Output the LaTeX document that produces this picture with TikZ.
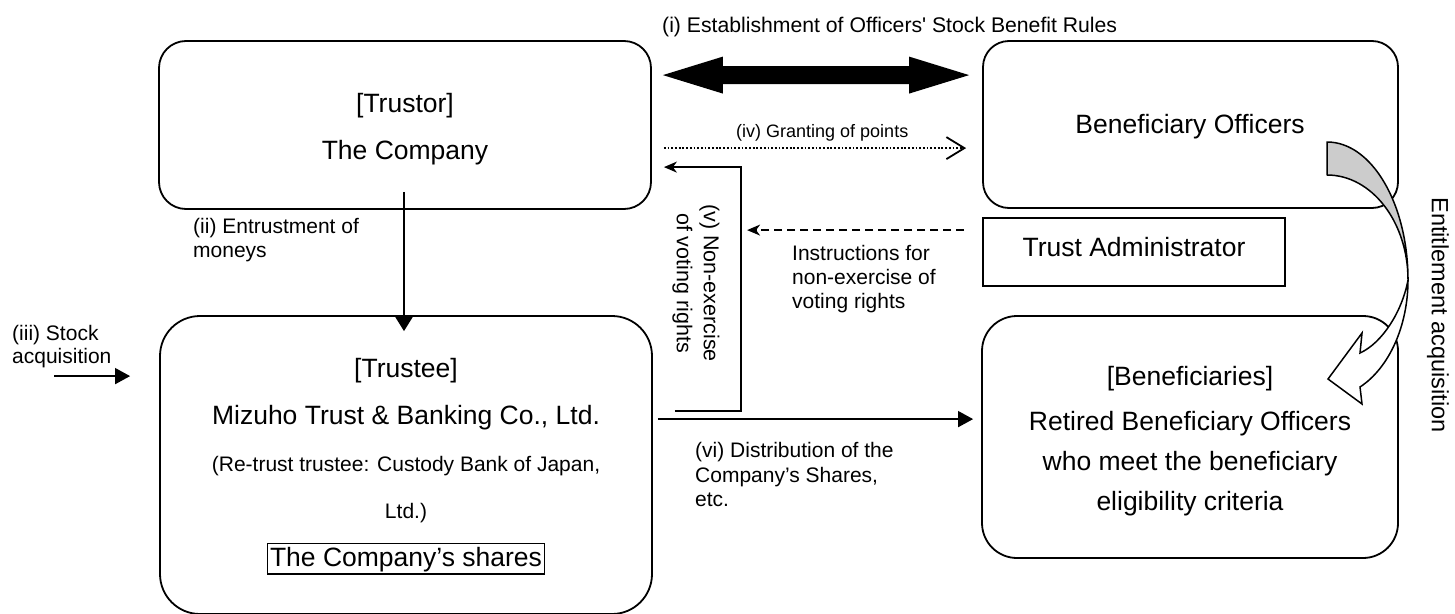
\documentclass[tikz,border=0pt]{standalone}
\usepackage{fontspec}
\setmainfont{Liberation Sans}
\usetikzlibrary{arrows.meta,calc}
\tikzset{
  rbox/.style={draw, line width=1.8pt, rounded corners=#1, inner sep=0pt},
  sbox/.style={draw, line width=1.8pt, inner sep=0pt},
  bigtext/.style={font=\fontsize{26.5}{30}\selectfont, anchor=base, inner sep=0pt},
  midtext/.style={font=\fontsize{21}{24}\selectfont, anchor=base, inner sep=0pt},
  lbl/.style={font=\fontsize{21}{24}\selectfont, anchor=base west, inner sep=0pt},
  conn/.style={line width=1.5pt},
  solidtip/.style={-{Triangle[length=15pt,width=16pt]}},
  thintip/.style={-{Stealth[length=13pt,width=11pt,inset=4pt]}},
}
\begin{document}
\begin{tikzpicture}[x=1pt,y=-1pt]
\useasboundingbox (0,0) rectangle (1455,613);

% parties
\node[rbox=27pt, minimum width=492pt, minimum height=168pt] (trustor) at (405,125) {};
\node[rbox=26pt, minimum width=415pt, minimum height=167pt] (officers) at (1190.5,124.5) {};
\node[sbox, minimum width=302pt, minimum height=68pt] (admin) at (1134,252) {};
\node[rbox=40pt, minimum width=492pt, minimum height=298pt] (trustee) at (406,465) {};
\node[rbox=35pt, minimum width=416pt, minimum height=242pt] (benef) at (1190,437) {};

% texts inside the parties
\node[bigtext] (trustorhead) at (405,112) {[Trustor]};
\node[bigtext] (trustorname) at (405,159.5) {The Company};
\node[bigtext] (officersname) at (1190,133) {Beneficiary Officers};
\node[bigtext] (adminname) at (1134,256) {Trust Administrator};
\node[bigtext] (trusteehead) at (406,377) {[Trustee]};
\node[bigtext] (trusteename) at (406,424) {Mizuho Trust \& Banking Co., Ltd.};
\node[midtext] (retrust1) at (406,471) {(Re-trust trustee: Custody Bank of Japan,};
\node[midtext] (retrust2) at (406,518) {Ltd.)};
\node[bigtext, draw, line width=1.6pt, text height=21pt, text depth=5.5pt,
      inner xsep=2.5pt, inner ysep=2pt] (shares) at (406,566.5) {The Company’s shares};
\node[bigtext] (benefhead) at (1190,385) {[Beneficiaries]};
\node[bigtext] (benef1) at (1190,430) {Retired Beneficiary Officers};
\node[bigtext] (benef2) at (1190,470) {who meet the beneficiary};
\node[bigtext] (benef3) at (1190,510) {eligibility criteria};

% (i) rules: thick double arrow
\coordinate (dl) at ($(trustor.north east)+(11,35)$);
\coordinate (dr) at ($(officers.north west)+(-13,35)$);
\fill (dl) -- ($(dl)+(60,-18.5)$) -- ($(dl)+(60,-9)$) -- ($(dr)+(-60,-9)$)
  -- ($(dr)+(-60,-18.5)$) -- (dr) -- ($(dr)+(-60,18.5)$) -- ($(dr)+(-60,9)$)
  -- ($(dl)+(60,9)$) -- ($(dl)+(60,18.5)$) -- cycle;
\node[lbl, font=\fontsize{21.2}{24}\selectfont] (rules) at (662,32)
  {(i) Establishment of Officers\textquotesingle{} Stock Benefit Rules};

% (iv) points
\draw[line width=1.8pt, dash pattern=on 1.8pt off 1.9pt,
      -{Straight Barb[length=18pt,width=22pt]}]
  ($(trustor.north east)+(12,108)$) -- ($(officers.north west)+(-16,108)$);
\node[lbl, font=\fontsize{18}{21}\selectfont] (points) at (736,137) {(iv) Granting of points};

% (v) non-exercise of voting rights
\coordinate (vs) at ($(trustee.north east)+(22,96)$);
\coordinate (vc) at ($(trustee.north east)+(88,96)$);
\coordinate (ve) at ($(trustor.north east)+(12,127)$);
\draw[conn, thintip] (vs) -- (vc) |- (ve);
\node[font=\fontsize{21.5}{27}\selectfont, rotate=-90, align=center, inner sep=0pt]
  (votelbl) at (696,283) {(v) Non-exercise\\of voting rights};

% instructions from the trust administrator
\draw[conn, dash pattern=on 8pt off 5pt, thintip]
  ($(admin.north west)+(-18,13)$) -- ($(admin.north west)+(-235,13)$);
\node[lbl] (ins1) at (792,260) {Instructions for};
\node[lbl] (ins2) at (792,284) {non-exercise of};
\node[lbl] (ins3) at (792,308) {voting rights};

% (ii) entrustment of moneys
\draw[conn, -{Triangle[length=14pt,width=17pt]}]
  ($(trustor.south)+(-1,-18)$) -- ($(trustee.north)+(-2,16)$);
\node[lbl] (ent1) at (193,233) {(ii) Entrustment of};
\node[lbl] (ent2) at (193,257) {moneys};

% (iii) stock acquisition
\draw[conn, solidtip] ($(trustee.north west)+(-105,61)$) -- ($(trustee.north west)+(-29,61)$);
\node[lbl] (acq1) at (12,340) {(iii) Stock};
\node[lbl] (acq2) at (12,363) {acquisition};

% (vi) distribution
\draw[conn, solidtip] ($(trustee.north east)+(5,104)$) -- ($(benef.north west)+(-8,104)$);
\node[lbl] (dis1) at (695,457) {(vi) Distribution of the};
\node[lbl] (dis2) at (695,482) {Company’s Shares,};
\node[lbl] (dis3) at (695,506) {etc.};

% entitlement acquisition: curved ribbon arrow
\filldraw[fill=black!20, line width=1.5pt, line join=round]
  (1327,142) .. controls (1371.7,142) and (1408,203.8) .. (1408,280)
  .. controls (1408,222) and (1371.7,175) .. (1327,175) -- cycle;
\filldraw[fill=white, line width=1.5pt, line join=miter]
  (1408,280) .. controls (1408,326) and (1389,368) .. (1360,387)
  -- (1362,404) -- (1328,379) -- (1362,333) -- (1360,353)
  .. controls (1382,343) and (1402,312) .. (1408,280) -- cycle;
\node[font=\fontsize{23.5}{27}\selectfont, rotate=-90, inner sep=0pt]
  (entitle) at (1438,315) {Entitlement acquisition};
\end{tikzpicture}
\end{document}
